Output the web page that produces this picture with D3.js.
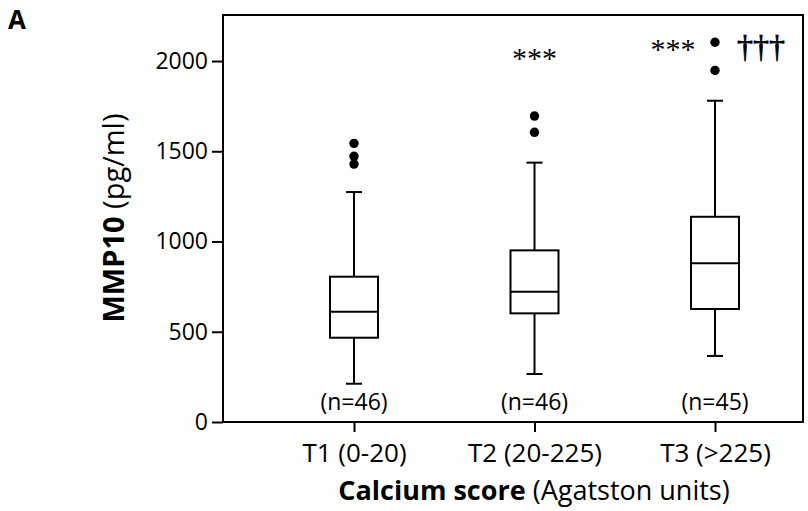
<!DOCTYPE html>
<html>
<head>
<meta charset="utf-8">
<script src="https://cdn.jsdelivr.net/npm/d3@7"></script>
<style>
  body { margin: 0; background: #fff; }
  text { font-family: "Open Sans", "Lato", sans-serif; fill: #000; }
  .sym { font-family: "Liberation Serif", "DejaVu Serif", serif; }
</style>
</head>
<body>
<div id="chart"></div>
<script>
// MMP10 by calcium score tertile — box plots (Tukey style, outliers as dots)

const categories = ['T1 (0-20)', 'T2 (20-225)', 'T3 (>225)'];
const nLabels    = ['(n=46)', '(n=46)', '(n=45)'];
const whiskerLow  = [212, 266, 366];
const q1          = [467, 602, 626];
const median      = [611, 722, 879];
const q3          = [805, 951, 1137];
const whiskerHigh = [1274, 1437, 1780];
const outliers    = [[1429, 1472, 1544], [1605, 1695], [1948, 2104]];
const starMarks   = ['', '***', '***'];
const daggerMarks = ['', '', '†††'];
const yTicks = [0, 500, 1000, 1500, 2000];
const yMax = 2255;

const W = 808, H = 511;
const m = { left: 223, right: 5, top: 15, bottom: 89 };
const pw = W - m.left - m.right, ph = H - m.top - m.bottom;

const svg = d3.select('#chart').append('svg')
  .attr('width', W).attr('height', H);

const g = svg.append('g').attr('transform', `translate(${m.left},${m.top})`);

const x = d3.scalePoint().domain(categories).range([131, 492]);
const y = d3.scaleLinear().domain([0, yMax]).range([ph, 0]);

const boxW = 48, capW = 16;

// y axis
const yAxis = g.append('g')
  .call(d3.axisLeft(y).tickValues(yTicks).tickFormat(d3.format('d')).tickSize(11).tickPadding(4));
yAxis.select('.domain').remove();
yAxis.selectAll('line').attr('stroke', '#000').attr('stroke-width', 2);
yAxis.selectAll('text').style('font-size', '23px').style('font-family', '"Open Sans", sans-serif').attr('fill', '#000');

// x axis
const xAxis = g.append('g').attr('transform', `translate(0,${ph})`)
  .call(d3.axisBottom(x).tickSize(10).tickPadding(12));
xAxis.select('.domain').remove();
xAxis.selectAll('line').attr('stroke', '#000').attr('stroke-width', 2);
xAxis.selectAll('text').style('font-size', '26px').style('font-family', '"Open Sans", sans-serif').attr('fill', '#000');

// frame
g.append('rect')
  .attr('x', 0).attr('y', 0).attr('width', pw).attr('height', ph)
  .attr('fill', 'none').attr('stroke', '#000').attr('stroke-width', 2);

// boxes
const rows = categories.map((c, i) => ({
  c, lo: whiskerLow[i], q1: q1[i], med: median[i], q3: q3[i], hi: whiskerHigh[i],
  out: outliers[i], n: nLabels[i], star: starMarks[i], dag: daggerMarks[i]
}));

const box = g.selectAll('.box').data(rows).enter().append('g')
  .attr('class', 'box')
  .attr('transform', d => `translate(${x(d.c)},0)`);

const ln = (sel) => sel.attr('stroke', '#000').attr('stroke-width', 2);

box.append('line').call(ln).attr('x1', 0).attr('x2', 0).attr('y1', d => y(d.hi)).attr('y2', d => y(d.q3));
box.append('line').call(ln).attr('x1', 0).attr('x2', 0).attr('y1', d => y(d.q1)).attr('y2', d => y(d.lo));
box.append('line').call(ln).attr('x1', -capW / 2).attr('x2', capW / 2).attr('y1', d => y(d.hi)).attr('y2', d => y(d.hi));
box.append('line').call(ln).attr('x1', -capW / 2).attr('x2', capW / 2).attr('y1', d => y(d.lo)).attr('y2', d => y(d.lo));
box.append('rect').call(ln)
  .attr('x', -boxW / 2).attr('width', boxW)
  .attr('y', d => y(d.q3)).attr('height', d => y(d.q1) - y(d.q3))
  .attr('fill', 'none');
box.append('line').call(ln).attr('x1', -boxW / 2).attr('x2', boxW / 2).attr('y1', d => y(d.med)).attr('y2', d => y(d.med));

box.selectAll('.out').data(d => d.out).enter().append('circle')
  .attr('class', 'out').attr('cx', 0).attr('cy', v => y(v)).attr('r', 4.7).attr('fill', '#000');

box.append('text')
  .attr('y', ph - 12).attr('text-anchor', 'middle')
  .style('font-size', '23px')
  .text(d => d.n);

// significance marks
box.filter(d => d.star && !d.dag).append('text')
  .attr('class', 'sym').attr('x', 0).attr('y', 53)
  .attr('text-anchor', 'middle').style('font-size', '30px')
  .text(d => d.star);
box.filter(d => d.dag).append('text')
  .attr('class', 'sym').attr('x', -42).attr('y', 44)
  .attr('text-anchor', 'middle').style('font-size', '30px')
  .text(d => d.star);
box.filter(d => d.dag).append('text')
  .attr('class', 'sym').attr('x', 46).attr('y', 42)
  .attr('text-anchor', 'middle').style('font-size', '32px')
  .attr('stroke', '#000').attr('stroke-width', 0.7)
  .text(d => d.dag);

// axis titles
const yt = svg.append('text')
  .attr('transform', 'translate(124,218) rotate(-90)')
  .attr('text-anchor', 'middle').style('font-size', '29px');
yt.append('tspan').attr('font-weight', 'bold').text('MMP10');
yt.append('tspan').text(' (pg/ml)');

const xt = svg.append('text')
  .attr('x', 534).attr('y', 500)
  .attr('text-anchor', 'middle').style('font-size', '27px');
xt.append('tspan').attr('font-weight', 'bold').text('Calcium score');
xt.append('tspan').text(' (Agatston units)');

svg.append('text').attr('x', 8).attr('y', 29)
  .attr('font-weight', 'bold').style('font-size', '26px').text('A');
</script>
</body>
</html>
